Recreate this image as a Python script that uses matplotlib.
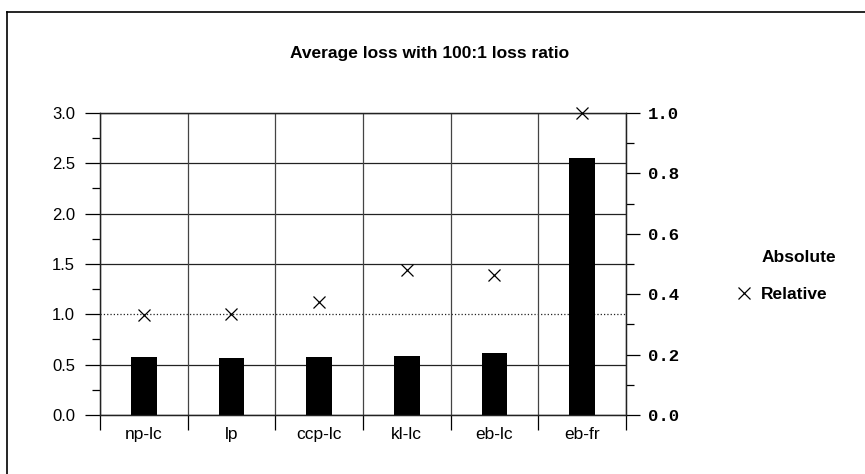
import matplotlib
matplotlib.use("Agg")
import matplotlib.pyplot as plt
import numpy as np
from matplotlib.lines import Line2D
from matplotlib.patches import Patch

# data
schemes = ["np-lc", "lp", "ccp-lc", "kl-lc", "eb-lc", "eb-fr"]
absolute = [0.58, 0.57, 0.58, 0.59, 0.62, 2.55]      # left axis
relative = [0.33, 0.335, 0.375, 0.48, 0.465, 1.0]    # right axis
left_ticks = [0.0, 0.5, 1.0, 1.5, 2.0, 2.5, 3.0]
right_ticks = [0.0, 0.2, 0.4, 0.6, 0.8, 1.0]

sans = ["Liberation Sans", "DejaVu Sans"]
mono = ["Liberation Mono", "DejaVu Sans Mono"]

fig = plt.figure(figsize=(8.65, 4.74), dpi=100)
ax = fig.add_axes([0.1156, 0.1245, 0.6081, 0.6371])

x = np.arange(len(schemes))
ax.bar(x, absolute, width=0.29, color="black", zorder=3)

# grid: horizontal at every major tick, vertical at category boundaries
for y in left_ticks:
    ax.axhline(y, color="#222222", lw=0.9, zorder=1,
               ls=":" if y == 1.0 else "-")
for b in np.arange(len(schemes) + 1) - 0.5:
    ax.axvline(b, color="#444444", lw=0.9, zorder=1)

ax.set_xlim(-0.5, len(schemes) - 0.5)
ax.set_ylim(0, 3.0)
ax.set_yticks(left_ticks)
ax.set_yticklabels([f"{v:.1f}" for v in left_ticks], family=sans, fontsize=12)
ax.set_yticks(np.arange(0, 3.01, 0.25), minor=True)
ax.tick_params(axis="y", which="major", length=11, width=0.9, pad=7)
ax.tick_params(axis="y", which="minor", length=5.5, width=0.9)

ax.set_xticks(np.arange(len(schemes) + 1) - 0.5)
ax.set_xticklabels([])
ax.set_xticks(x, minor=True)
ax.set_xticklabels(schemes, minor=True, family=sans, fontsize=12.5)
ax.tick_params(axis="x", which="major", length=11, width=0.9)
ax.tick_params(axis="x", which="minor", length=0, pad=9)

ax2 = ax.twinx()
ax2.plot(x, relative, ls="none", marker="x", ms=9, mew=0.9, color="black",
         zorder=4, clip_on=False)
ax2.set_ylim(0, 1.0)
ax2.set_yticks(right_ticks)
ax2.set_yticklabels([f"{v:.1f}" for v in right_ticks], family=mono,
                    fontsize=12.5, fontweight="bold")
ax2.set_yticks(np.arange(0, 1.001, 0.1), minor=True)
ax2.tick_params(axis="y", which="major", length=10, width=0.9, pad=6)
ax2.tick_params(axis="y", which="minor", length=5.5, width=0.9)

for a in (ax, ax2):
    for s in a.spines.values():
        s.set_linewidth(0.9)
        s.set_color("#222222")

handles = [Patch(facecolor="none", edgecolor="none"),
           Line2D([0], [0], ls="none", marker="x", ms=9, mew=0.9, color="black")]
fig.legend(handles, ["Absolute", "Relative"], loc="center left",
           bbox_to_anchor=(0.834, 0.418), frameon=False, handlelength=0.8,
           handletextpad=0.6, labelspacing=1.3,
           prop={"family": sans, "weight": "bold", "size": 12.5})

fig.text(0.497, 0.888, "Average loss with 100:1 loss ratio", ha="center",
         va="center", fontsize=12.5, fontweight="bold", family=sans)

# outer frame (only top and left edges visible in the scan)
fig.add_artist(Line2D([0.008, 1.0], [0.975, 0.975], color="black", lw=1.2,
                      transform=fig.transFigure))
fig.add_artist(Line2D([0.008, 0.008], [0.0, 0.975], color="black", lw=1.2,
                      transform=fig.transFigure))

fig.savefig("out.png", dpi=100)
